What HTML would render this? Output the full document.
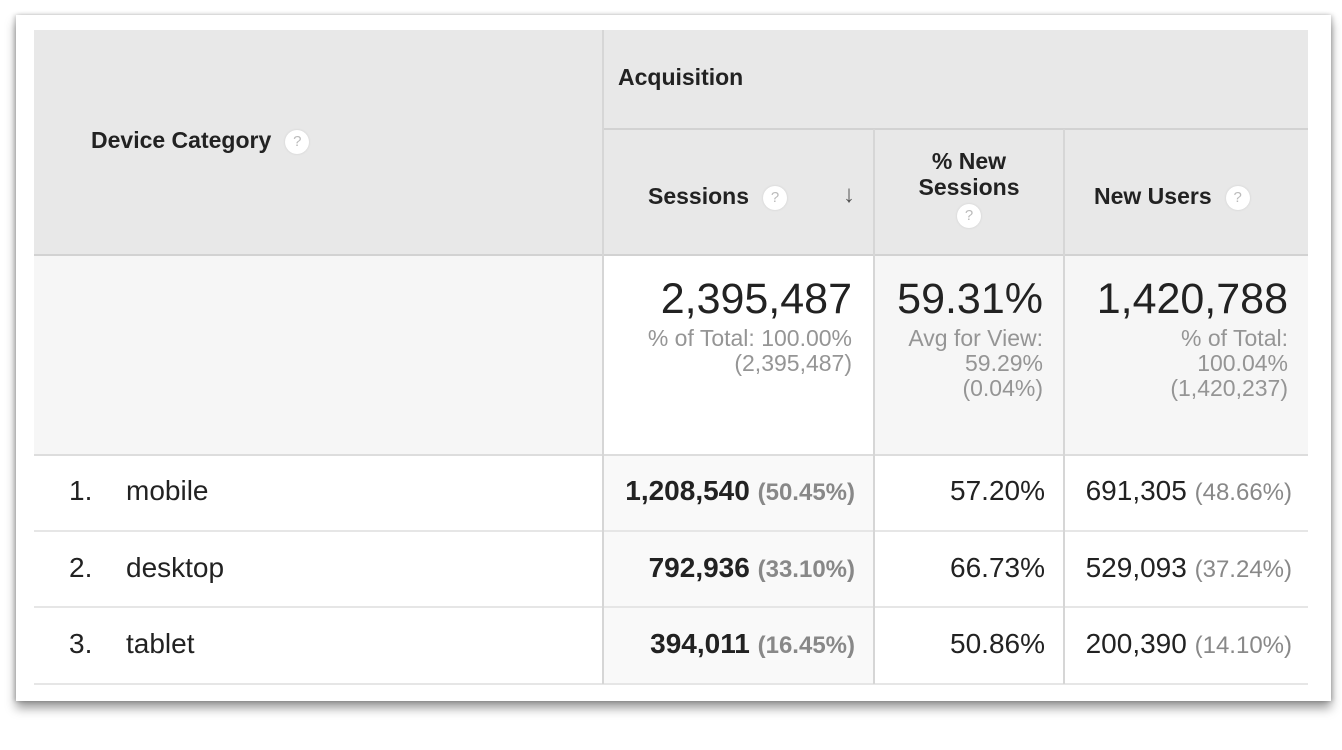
<!DOCTYPE html>
<html><head><meta charset="utf-8"><style>
body{margin:0;width:1342px;height:750px;background:#fff;font-family:"Liberation Sans",Arial,sans-serif;position:relative;overflow:hidden}
.card{position:absolute;left:16px;top:15px;width:1315px;height:686px;background:#fff;box-shadow:0 7px 10px rgba(0,0,0,.4),-2px 0 4px rgba(0,0,0,.15),2px 0 4px rgba(0,0,0,.15)}
.a{position:absolute;box-sizing:border-box}
.t{position:absolute;white-space:nowrap;color:#222}
.q{display:inline-block;width:24px;height:24px;border-radius:50%;background:#fff;color:#bbb;font-size:15px;text-align:center;line-height:24px;vertical-align:middle;margin-left:14px;font-weight:normal;box-shadow:0 0 2px #ccc}
.hl{position:absolute;height:2px;background:#ddd}
.vl{position:absolute;width:2px;background:#d6d6d6}
.r{text-align:right}
.g{color:#888}
.s{color:#959595}
</style></head><body>
<div class="card"></div>
<div class="a" style="left:34px;top:30px;width:1274px;height:225px;background:#e8e8e8"></div>
<div class="a" style="left:34px;top:255px;width:569px;height:200px;background:#f6f6f6"></div>
<div class="a" style="left:874px;top:255px;width:434px;height:200px;background:#f6f6f6"></div>
<div class="a" style="left:603px;top:455px;width:271px;height:229px;background:#f9f9f9"></div>
<div class="hl" style="left:603px;top:128px;width:705px;background:#d2d2d2"></div>
<div class="hl" style="left:34px;top:254px;width:1274px;background:#d2d2d2"></div>
<div class="hl" style="left:34px;top:454px;width:1274px"></div>
<div class="hl" style="left:34px;top:530px;width:1274px;background:#e6e6e6"></div>
<div class="hl" style="left:34px;top:606px;width:1274px;background:#e6e6e6"></div>
<div class="hl" style="left:34px;top:683px;width:1274px;background:#e6e6e6"></div>
<div class="vl" style="left:602px;top:30px;height:654px"></div>
<div class="vl" style="left:873px;top:129px;height:555px"></div>
<div class="vl" style="left:1063px;top:129px;height:555px"></div>
<div class="t" style="left:91px;top:127px;font-size:23px;font-weight:bold">Device Category<span class="q">?</span></div>
<div class="t" style="left:618px;top:64px;font-size:23px;font-weight:bold">Acquisition</div>
<div class="t" style="left:648px;top:183px;font-size:23px;font-weight:bold">Sessions<span class="q">?</span></div>
<div class="t" style="left:843px;top:181px;font-size:24px;font-weight:bold;color:#555">&#8595;</div>
<div class="t" style="left:874px;width:190px;top:148px;font-size:23px;font-weight:bold;text-align:center;line-height:26px">% New<br>Sessions<br><span class="q" style="margin:2px 0 0 0">?</span></div>
<div class="t" style="left:1094px;top:183px;font-size:23px;font-weight:bold">New Users<span class="q">?</span></div>
<div class="t r" style="right:490px;top:275px;font-size:43px">2,395,487</div>
<div class="t r s" style="right:490px;top:326px;font-size:23px;line-height:25px">% of Total: 100.00%<br>(2,395,487)</div>
<div class="t r" style="right:299px;top:275px;font-size:43px">59.31%</div>
<div class="t r s" style="right:299px;top:326px;font-size:23px;line-height:25px">Avg for View:<br>59.29%<br>(0.04%)</div>
<div class="t r" style="right:54px;top:275px;font-size:43px">1,420,788</div>
<div class="t r s" style="right:54px;top:326px;font-size:23px;line-height:25px">% of Total:<br>100.04%<br>(1,420,237)</div>
<div class="t" style="left:69px;top:475px;font-size:28px">1.</div><div class="t" style="left:126px;top:475px;font-size:28px">mobile</div>
<div class="t" style="left:69px;top:552px;font-size:28px">2.</div><div class="t" style="left:126px;top:552px;font-size:28px">desktop</div>
<div class="t" style="left:69px;top:628px;font-size:28px">3.</div><div class="t" style="left:126px;top:628px;font-size:28px">tablet</div>
<div class="t r" style="right:487px;top:475px;font-size:28px"><b>1,208,540</b> <span class="g" style="font-size:24px;font-weight:bold">(50.45%)</span></div>
<div class="t r" style="right:487px;top:552px;font-size:28px"><b>792,936</b> <span class="g" style="font-size:24px;font-weight:bold">(33.10%)</span></div>
<div class="t r" style="right:487px;top:628px;font-size:28px"><b>394,011</b> <span class="g" style="font-size:24px;font-weight:bold">(16.45%)</span></div>
<div class="t r" style="right:297px;top:475px;font-size:28px">57.20%</div>
<div class="t r" style="right:297px;top:552px;font-size:28px">66.73%</div>
<div class="t r" style="right:297px;top:628px;font-size:28px">50.86%</div>
<div class="t r" style="right:50px;top:475px;font-size:28px">691,305 <span class="g" style="font-size:24px">(48.66%)</span></div>
<div class="t r" style="right:50px;top:552px;font-size:28px">529,093 <span class="g" style="font-size:24px">(37.24%)</span></div>
<div class="t r" style="right:50px;top:628px;font-size:28px">200,390 <span class="g" style="font-size:24px">(14.10%)</span></div>
</body></html>
